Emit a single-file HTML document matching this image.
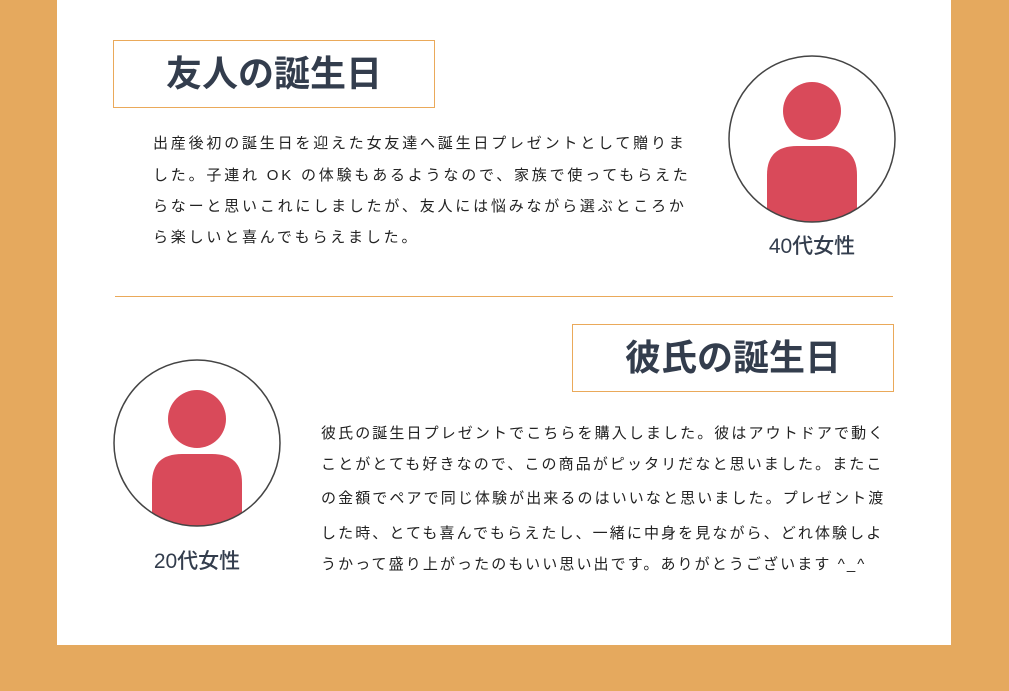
<!DOCTYPE html>
<html><head><meta charset="utf-8"><style>
html,body{margin:0;padding:0}
body{width:1009px;height:691px;background:#e5a95e;position:relative;overflow:hidden;font-family:"Liberation Sans","Noto Sans CJK JP",sans-serif}
.panel{position:absolute;left:57px;top:0;width:894px;height:645px;background:#fff}
.tb{position:absolute;width:322px;height:68px;border:1px solid #eaa95a;box-sizing:border-box;color:#333d4d;font-size:36px;font-weight:bold;text-align:center;line-height:66px}
.txt{position:absolute;color:#222;font-size:15px;letter-spacing:2.8px;white-space:nowrap}
.txt div{position:absolute;left:0}
.lbl{position:absolute;color:#333d4d;font-size:21px;font-weight:500;width:120px;text-align:center}
.hr{position:absolute;left:115px;top:296px;width:778px;height:1px;background:#eaa95a}
</style></head><body>
<div class="panel"></div>
<div class="tb" style="left:113px;top:40px">友人の誕生日</div>
<div class="txt" style="left:153px;top:0">
<div style="top:132px">出産後初の誕生日を迎えた女友達へ誕生日プレゼントとして贈りま</div>
<div style="top:164px">した。子連れ OK の体験もあるようなので、家族で使ってもらえた</div>
<div style="top:195px">らなーと思いこれにしましたが、友人には悩みながら選ぶところか</div>
<div style="top:226px">ら楽しいと喜んでもらえました。</div>
</div>
<svg style="position:absolute;left:727px;top:55px" width="170" height="170">
<defs><clipPath id="c1"><circle cx="85" cy="84" r="83"/></clipPath></defs>
<circle cx="85" cy="84" r="83" fill="#fff"/>
<g clip-path="url(#c1)" fill="#d94a5a"><circle cx="85" cy="56" r="29"/><path d="M40 120 Q40 91 70 91 L100 91 Q130 91 130 120 L130 200 L40 200Z"/></g>
<circle cx="85" cy="84" r="83" fill="none" stroke="#444" stroke-width="1.5"/>
</svg>
<div class="lbl" style="left:752px;top:230px">40代女性</div>
<div class="hr"></div>
<div class="tb" style="left:572px;top:324px">彼氏の誕生日</div>
<svg style="position:absolute;left:113px;top:359px" width="170" height="170">
<defs><clipPath id="c2"><circle cx="84" cy="84" r="83"/></clipPath></defs>
<circle cx="84" cy="84" r="83" fill="#fff"/>
<g clip-path="url(#c2)" fill="#d94a5a"><circle cx="84" cy="60" r="29"/><path d="M39 124 Q39 95 69 95 L99 95 Q129 95 129 124 L129 200 L39 200Z"/></g>
<circle cx="84" cy="84" r="83" fill="none" stroke="#444" stroke-width="1.5"/>
</svg>
<div class="lbl" style="left:137px;top:545px">20代女性</div>
<div class="txt" style="left:321px;top:0;letter-spacing:2.1px">
<div style="top:422px">彼氏の誕生日プレゼントでこちらを購入しました。彼はアウトドアで動く</div>
<div style="top:453px">ことがとても好きなので、この商品がピッタリだなと思いました。またこ</div>
<div style="top:487px">の金額でペアで同じ体験が出来るのはいいなと思いました。プレゼント渡</div>
<div style="top:522px">した時、とても喜んでもらえたし、一緒に中身を見ながら、どれ体験しよ</div>
<div style="top:553px">うかって盛り上がったのもいい思い出です。ありがとうございます ^_^</div>
</div>
</body></html>
